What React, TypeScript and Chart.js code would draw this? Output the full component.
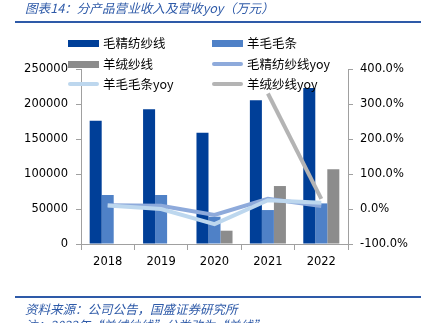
import React, { useEffect, useRef } from "react";
import { Chart, registerables } from "chart.js";

Chart.register(...registerables);

const categories = ["2018", "2019", "2020", "2021", "2022"];
const woolWorstedYarn = [176000, 192500, 159000, 205500, 223000];
const woolTops = [70000, 70000, 39000, 48500, 58000];
const cashmereYarn = [null, null, 19000, 82800, 106700];
const woolWorstedYoy = [11, 9.5, -17, 29, 8.5];
const woolTopsYoy = [10, 0, -43, 25, 18];
const cashmereYoy = [null, null, null, 330, 29];

const leftTicks = [0, 50000, 100000, 150000, 200000, 250000];
const rightTicks = [-100, 0, 100, 200, 300, 400];

const C_DARK = "#003f98";
const C_MID = "#4f81c7";
const C_GRAY = "#8c8c8c";
const C_LINE1 = "#8eaadb";
const C_LINE2 = "#bdd7ee";
const C_LINE3 = "#b4b4b4";
const AXIS = "#a0a0a0";

const legendItems = [
  { label: "毛精纺纱线", color: C_DARK, type: "bar", col: 0, row: 0 },
  { label: "羊毛毛条", color: C_MID, type: "bar", col: 1, row: 0 },
  { label: "羊绒纱线", color: C_GRAY, type: "bar", col: 0, row: 1 },
  { label: "毛精纺纱线yoy", color: C_LINE1, type: "line", col: 1, row: 1 },
  { label: "羊毛毛条yoy", color: C_LINE2, type: "line", col: 0, row: 2 },
  { label: "羊绒纱线yoy", color: C_LINE3, type: "line", col: 1, row: 2 },
];

export default function App() {
  const ref = useRef<HTMLCanvasElement>(null);

  useEffect(() => {
    document.body.style.margin = "0";
    const numFont = { family: "'DejaVu Sans', Verdana, sans-serif", size: 11.5 };
    const chart = new Chart(ref.current!, {
      type: "bar",
      data: {
        labels: categories,
        datasets: [
          { type: "bar", label: "毛精纺纱线", data: woolWorstedYarn, backgroundColor: C_DARK, yAxisID: "y", order: 5 },
          { type: "bar", label: "羊毛毛条", data: woolTops, backgroundColor: C_MID, yAxisID: "y", order: 5 },
          { type: "bar", label: "羊绒纱线", data: cashmereYarn as any, backgroundColor: C_GRAY, yAxisID: "y", order: 5 },
          { type: "line", label: "羊绒纱线yoy", data: cashmereYoy as any, borderColor: C_LINE3, borderWidth: 4, pointRadius: 0, yAxisID: "y1", order: 3, tension: 0, spanGaps: false },
          { type: "line", label: "毛精纺纱线yoy", data: woolWorstedYoy, borderColor: C_LINE1, borderWidth: 4, pointRadius: 0, yAxisID: "y1", order: 2, tension: 0 },
          { type: "line", label: "羊毛毛条yoy", data: woolTopsYoy, borderColor: C_LINE2, borderWidth: 4, pointRadius: 0, yAxisID: "y1", order: 1, tension: 0 },
        ] as any,
      },
      options: {
        animation: false,
        responsive: false,
        maintainAspectRatio: false,
        layout: { padding: { top: 69, left: 0, right: 0, bottom: 0 } },
        plugins: { legend: { display: false }, tooltip: { enabled: false }, title: { display: false } },
        datasets: { bar: { barPercentage: 1, categoryPercentage: 0.675 } },
        scales: {
          x: {
            grid: { display: true, drawOnChartArea: false, drawTicks: true, tickLength: 6, color: AXIS, offset: true },
            border: { display: true, color: AXIS, width: 1 },
            ticks: { color: "#000", font: numFont, padding: 5, maxRotation: 0 },
            afterFit: (s: any) => { s.height = 79; },
          },
          y: {
            position: "left",
            min: 0,
            max: 250000,
            afterBuildTicks: (s: any) => { s.ticks = leftTicks.map((v) => ({ value: v })); },
            grid: { display: true, drawOnChartArea: false, drawTicks: true, tickLength: 5, color: AXIS },
            border: { display: true, color: AXIS, width: 1 },
            ticks: { color: "#000", font: numFont, padding: 8, callback: (v: any) => String(v) },
            afterFit: (s: any) => { s.width = 81; },
          },
          y1: {
            position: "right",
            min: -100,
            max: 400,
            afterBuildTicks: (s: any) => { s.ticks = rightTicks.map((v) => ({ value: v })); },
            grid: { display: true, drawOnChartArea: false, drawTicks: true, tickLength: 5, color: AXIS },
            border: { display: true, color: AXIS, width: 1 },
            ticks: { color: "#000", font: numFont, padding: 7, callback: (v: any) => Number(v).toFixed(1) + "%" },
            afterFit: (s: any) => { s.width = 78; },
          },
        },
      } as any,
    });
    return () => chart.destroy();
  }, []);

  const cjk = "'Noto Sans CJK SC', sans-serif";
  const rows = [43, 64, 84];
  const cols = [{ sw: 68, tx: 103 }, { sw: 212, tx: 247 }];

  return (
    <div style={{ position: "fixed", left: 0, top: 0, width: 426, height: 323, overflow: "hidden", background: "#fff" }}>
      <canvas ref={ref} width={426} height={323} style={{ position: "absolute", left: 0, top: 0, width: 426, height: 323 }} />
      <div style={{ position: "absolute", left: 25, top: -1, fontFamily: cjk, fontStyle: "italic", fontSize: 12.6, color: "#2e5aa8", lineHeight: "18px", whiteSpace: "nowrap" }}>
        图表14：分产品营业收入及营收yoy（万元）
      </div>
      <div style={{ position: "absolute", left: 15, top: 21, width: 406, height: 2, background: "#2e5aa8" }} />
      {legendItems.map((it) => {
        const col = cols[it.col];
        const row = rows[it.row];
        return (
          <React.Fragment key={it.label}>
            {it.type === "bar" ? (
              <div style={{ position: "absolute", left: col.sw, top: row - 3, width: 31, height: 7, background: it.color }} />
            ) : (
              <div style={{ position: "absolute", left: col.sw, top: row - 2, width: 31, height: 4, borderRadius: 2, background: it.color }} />
            )}
            <div style={{ position: "absolute", left: col.tx, top: row - 10, fontFamily: cjk, fontSize: 12.5, lineHeight: "20px", color: "#000", whiteSpace: "nowrap" }}>
              {it.label}
            </div>
          </React.Fragment>
        );
      })}
      <div style={{ position: "absolute", left: 15, top: 296, width: 406, height: 2, background: "#2e5aa8" }} />
      <div style={{ position: "absolute", left: 25, top: 301, fontFamily: cjk, fontStyle: "italic", fontSize: 12.5, color: "#2e5aa8", lineHeight: "16px", whiteSpace: "nowrap" }}>
        资料来源：公司公告，国盛证券研究所
      </div>
      <div style={{ position: "absolute", left: 25, top: 317, fontFamily: cjk, fontStyle: "italic", fontSize: 12.5, color: "#2e5aa8", lineHeight: "16px", whiteSpace: "nowrap" }}>
        注：2022年“羊绒纱线”分类改为“羊线”
      </div>
    </div>
  );
}
